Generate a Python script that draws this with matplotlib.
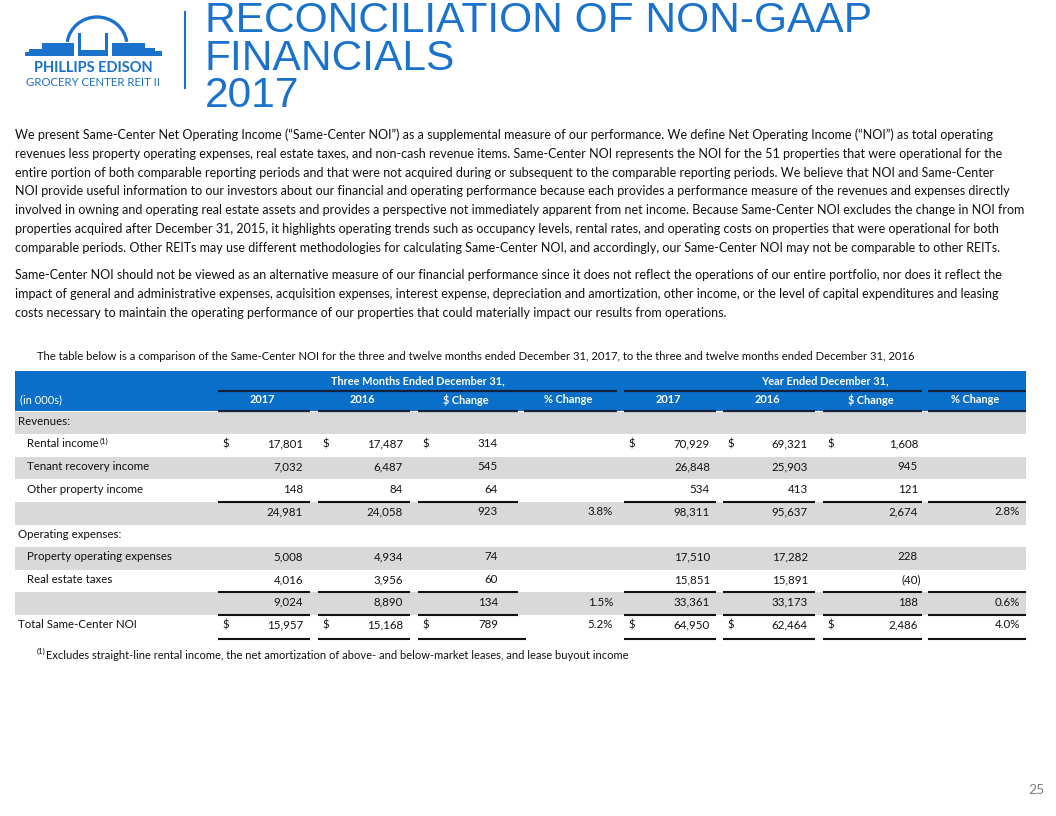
import matplotlib
matplotlib.use("Agg")
import matplotlib.pyplot as plt
from matplotlib.patches import Rectangle, Polygon, Arc

# ---- table data (in 000s) ----
row_labels = ["Revenues:", "Rental income", "Tenant recovery income", "Other property income", "",
              "Operating expenses:", "Property operating expenses", "Real estate taxes", "",
              "Total Same-Center NOI"]
row_indent = [0, 1, 1, 1, 0, 0, 1, 1, 0, 0]
q4_2017 = [None, 17801, 7032, 148, 24981, None, 5008, 4016, 9024, 15957]
q4_2016 = [None, 17487, 6487, 84, 24058, None, 4934, 3956, 8890, 15168]
q4_change = [None, 314, 545, 64, 923, None, 74, 60, 134, 789]
q4_pct = [None, None, None, None, 3.8, None, None, None, 1.5, 5.2]
fy_2017 = [None, 70929, 26848, 534, 98311, None, 17510, 15851, 33361, 64950]
fy_2016 = [None, 69321, 25903, 413, 95637, None, 17282, 15891, 33173, 62464]
fy_change = [None, 1608, 945, 121, 2674, None, 228, -40, 188, 2486]
fy_pct = [None, None, None, None, 2.8, None, None, None, 0.6, 4.0]
dollar_rows = [1, 9]
subtotal_rows = [4, 8]
total_row = 9

col_headers = ["2017", "2016", "$ Change", "% Change", "2017", "2016", "$ Change", "% Change"]
group_headers = ["Three Months Ended December 31,", "Year Ended December 31,"]

paragraph_1 = [
    "We present Same-Center Net Operating Income (\u201cSame-Center NOI\u201d) as a supplemental measure of our performance. We define Net Operating Income (\u201cNOI\u201d) as total operating",
    "revenues less property operating expenses, real estate taxes, and non-cash revenue items. Same-Center NOI represents the NOI for the 51 properties that were operational for the",
    "entire portion of both comparable reporting periods and that were not acquired during or subsequent to the comparable reporting periods. We believe that NOI and Same-Center",
    "NOI provide useful information to our investors about our financial and operating performance because each provides a performance measure of the revenues and expenses directly",
    "involved in owning and operating real estate assets and provides a perspective not immediately apparent from net income. Because Same-Center NOI excludes the change in NOI from",
    "properties acquired after December 31, 2015, it highlights operating trends such as occupancy levels, rental rates, and operating costs on properties that were operational for both",
    "comparable periods. Other REITs may use different methodologies for calculating Same-Center NOI, and accordingly, our Same-Center NOI may not be comparable to other REITs.",
]
paragraph_2 = [
    "Same-Center NOI should not be viewed as an alternative measure of our financial performance since it does not reflect the operations of our entire portfolio, nor does it reflect the",
    "impact of general and administrative expenses, acquisition expenses, interest expense, depreciation and amortization, other income, or the level of capital expenditures and leasing",
    "costs necessary to maintain the operating performance of our properties that could materially impact our results from operations.",
]
intro = ("The table below is a comparison of the Same-Center NOI for the three and twelve months ended "
         "December 31, 2017, to the three and twelve months ended December 31, 2016")
footnote = "Excludes straight-line rental income, the net amortization of above- and below-market leases, and lease buyout income"
title_lines = ["RECONCILIATION OF NON-GAAP", "FINANCIALS", "2017"]

BLUE = "#0A6FC9"
TITLE_BLUE = "#1A72CC"
NAVY = "#14213D"
GREY = "#D9D9D9"
TXT = "#111111"
BODY_FONT = ["Lato", "DejaVu Sans"]


def fmt_num(v):
    if v is None:
        return ""
    if v < 0:
        return f"({abs(v):,})"
    return f"{v:,}"


def fmt_pct(v):
    return "" if v is None else f"{v:.1f}%"


fig = plt.figure(figsize=(10.56, 8.16), dpi=100)
ax = fig.add_axes([0, 0, 1, 1])
ax.set_xlim(0, 1056)
ax.set_ylim(816, 0)
ax.axis("off")
renderer = fig.canvas.get_renderer()


def fit_size(lines, width_px, base=10):
    """Font size at which the widest of `lines` is width_px wide."""
    widest = 0
    for s in lines:
        t = ax.text(0, 0, s, fontsize=base, family=BODY_FONT)
        widest = max(widest, t.get_window_extent(renderer).width)
        t.remove()
    return base * width_px / widest


# ---- logo ----
ax.add_patch(Arc((97, 46), 60, 58, theta1=188, theta2=352, color=TITLE_BLUE, lw=2.4))
left_bldg = [(25, 56), (25, 52), (29, 52), (29, 49), (42, 49), (42, 43), (74, 43), (74, 56)]
right_bldg = [(112, 56), (112, 43), (145, 43), (145, 48), (155, 48), (155, 51), (162, 51), (162, 56)]
ax.add_patch(Polygon(left_bldg, closed=True, color=TITLE_BLUE, lw=0))
ax.add_patch(Polygon(right_bldg, closed=True, color=TITLE_BLUE, lw=0))
ax.add_patch(Rectangle((78, 33), 3, 23, color=TITLE_BLUE, lw=0))
ax.add_patch(Rectangle((105, 33), 3, 23, color=TITLE_BLUE, lw=0))
ax.add_patch(Polygon([(81, 50), (105, 50), (105, 56), (81, 56)], closed=True, color=TITLE_BLUE, lw=0))
ax.text(93, 68, "PHILLIPS EDISON", ha="center", va="center", fontsize=10.5, fontweight="bold",
        color=TITLE_BLUE, family=BODY_FONT)
ax.text(93, 82, "GROCERY CENTER REIT II", ha="center", va="center", fontsize=8.2,
        color=TITLE_BLUE, family=BODY_FONT)
ax.plot([185, 185], [12, 88], color=TITLE_BLUE, lw=1.5)

# ---- title ----
for line, base in zip(title_lines, [32, 70, 107]):
    ax.text(205, base, line, ha="left", va="baseline", fontsize=30.6, color=TITLE_BLUE,
            family=["Liberation Sans", "DejaVu Sans"])

# ---- body text ----
para_size = fit_size(paragraph_1 + paragraph_2, 1010)
for i, line in enumerate(paragraph_1):
    ax.text(15, 135 + i * 18.8, line, ha="left", va="center", fontsize=para_size, color=TXT,
            family=BODY_FONT)
for i, line in enumerate(paragraph_2):
    ax.text(15, 275 + i * 18.8, line, ha="left", va="center", fontsize=para_size, color=TXT,
            family=BODY_FONT)
ax.text(37, 357, intro, ha="left", va="center", fontsize=fit_size([intro], 875), color=TXT,
        family=BODY_FONT)

# ---- table ----
tbl_left, tbl_right = 15, 1026
cols = [(218, 310), (318, 410), (418, 518), (524, 617), (624, 716), (723, 815), (823, 922), (928, 1026)]
col_right = [303, 403, 498, 613, 710, 808, 918, 1020]
series = [q4_2017, q4_2016, q4_change, q4_pct, fy_2017, fy_2016, fy_change, fy_pct]
pct_cols = [3, 7]
fs = 8.3
hfs = 7.9

# header band
ax.add_patch(Rectangle((tbl_left, 371), tbl_right - tbl_left, 39.5, color=BLUE, lw=0))
ax.text((cols[0][0] + cols[3][1]) / 2, 380.5, group_headers[0], ha="center", va="center",
        fontsize=hfs, fontweight="bold", color="white", family=BODY_FONT)
ax.text((cols[4][0] + cols[7][1]) / 2, 380.5, group_headers[1], ha="center", va="center",
        fontsize=hfs, fontweight="bold", color="white", family=BODY_FONT)
ax.plot([cols[0][0], cols[3][1]], [390.5, 390.5], color=NAVY, lw=1.6, solid_capstyle="butt")
ax.plot([cols[4][0], cols[6][1]], [390.5, 390.5], color=NAVY, lw=1.6, solid_capstyle="butt")
ax.plot([cols[7][0], cols[7][1]], [390.5, 390.5], color=NAVY, lw=1.6, solid_capstyle="butt")
ax.text(20, 399.5, "(in 000s)", ha="left", va="center", fontsize=hfs, color="white", family=BODY_FONT)
for (x0, x1), head in zip(cols, col_headers):
    ax.text((x0 + x1) / 2 - 2, 399.5, head, ha="center", va="center", fontsize=hfs,
            fontweight="bold", color="white", family=BODY_FONT)
    ax.plot([x0, x1], [410.5, 410.5], color=NAVY, lw=1.6, solid_capstyle="butt")

row_h = 22.6
row_top0 = 411.5
for r, label in enumerate(row_labels):
    top = row_top0 + r * row_h
    yc = top + 9.8
    if r % 2 == 0:
        ax.add_patch(Rectangle((tbl_left, top), tbl_right - tbl_left, row_h, color=GREY, lw=0,
                               zorder=0))
    lbl = ax.text(18 + 9 * row_indent[r], yc, label, ha="left", va="center", fontsize=fs,
                  color=TXT, family=BODY_FONT)
    if label == "Rental income":
        ax.annotate("(1)", xy=(1, 1), xycoords=lbl, xytext=(0.3, 0.3), textcoords="offset points",
                    ha="left", va="top", fontsize=5.6, color=TXT, family=BODY_FONT)
    for c, vals in enumerate(series):
        v = vals[r]
        s = fmt_pct(v) if c in pct_cols else fmt_num(v)
        if s:
            ax.text(col_right[c] + (3 if s.startswith("(") else 0), yc, s, ha="right",
                    va="center", fontsize=fs, color=TXT, family=BODY_FONT)
        if r in dollar_rows and c not in pct_cols:
            ax.text(cols[c][0] + 4, yc, "$", ha="left", va="center", fontsize=fs, color=TXT,
                    family=BODY_FONT)
    # rules above subtotals / total
    if r in subtotal_rows or r == total_row:
        for c, (x0, x1) in enumerate(cols):
            if c == 3:
                continue
            ax.plot([x0, x1], [top, top], color=TXT, lw=1.5, solid_capstyle="butt")
    if r == total_row:
        bot = top + row_h + 1.5
        for c, (x0, x1) in enumerate(cols):
            if c == 3:
                continue
            ax.plot([x0, x1 + (8 if c == 2 else 0)], [bot, bot], color=TXT, lw=1.5,
                    solid_capstyle="butt")

# ---- footnote ----
sup = ax.text(37, 651, "(1)", ha="left", va="center", fontsize=5.6, color=TXT, family=BODY_FONT)
ax.annotate(footnote, xy=(1, 0.5), xycoords=sup, xytext=(0, -3.5), textcoords="offset points",
            ha="left", va="center", fontsize=fit_size([footnote], 580), color=TXT,
            family=BODY_FONT)

# page number
ax.text(1036, 790, "25", ha="center", va="center", fontsize=10, color="#7F7F7F", family=BODY_FONT)

fig.savefig("out.png", dpi=100)
